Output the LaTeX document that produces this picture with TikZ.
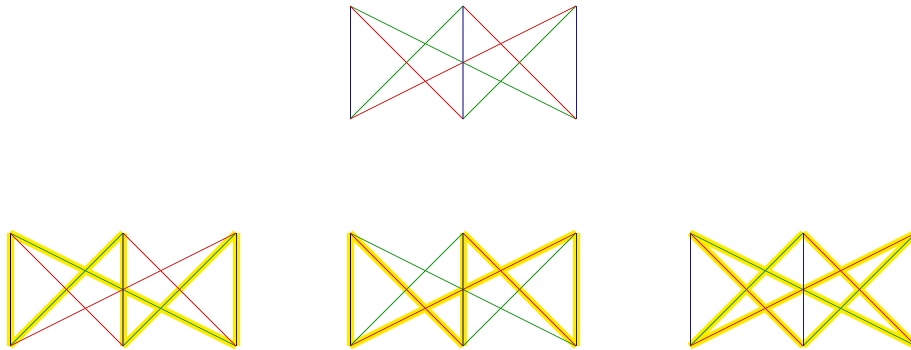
\documentclass[tikz,border=0pt]{standalone}
\definecolor{gcol}{RGB}{20,150,20}
\definecolor{rcol}{RGB}{215,20,20}
\definecolor{bcol}{RGB}{20,20,140}
\definecolor{hlcol}{RGB}{255,235,0}
\tikzset{
  gedge/.style={draw=gcol, line width=0.8pt},
  redge/.style={draw=rcol, line width=0.8pt},
  bedge/.style={draw=bcol, line width=0.8pt},
  midbedge/.style={draw=bcol, line width=2pt, draw opacity=0.55},
  hl/.style={draw=hlcol, line width=7pt},
}
\newcommand\placegraph[3]{%
  \coordinate (#1tl) at (#2,#3);
  \coordinate (#1tm) at (#2+113,#3);
  \coordinate (#1tr) at (#2+226,#3);
  \coordinate (#1bl) at (#2,#3+113);
  \coordinate (#1bm) at (#2+113,#3+113);
  \coordinate (#1br) at (#2+226,#3+113);
}
\newcommand\verts[1]{%
  \draw[bedge] (#1tl) -- (#1bl);
  \draw[bedge] (#1tr) -- (#1br);
}
\newcommand\greens[1]{%
  \draw[gedge] (#1tl) -- (#1br);
  \draw[gedge] (#1tm) -- (#1bl);
  \draw[gedge] (#1tr) -- (#1bm);
}
\newcommand\reds[1]{%
  \draw[redge] (#1tl) -- (#1bm);
  \draw[redge] (#1tm) -- (#1br);
  \draw[redge] (#1tr) -- (#1bl);
}
\begin{document}
\begin{tikzpicture}[x=1pt,y=-1pt]
\useasboundingbox (0,0) rectangle (911,349);
\clip (0,0) rectangle (911,349);
\placegraph{a}{350}{6}
\placegraph{b}{10}{233}
\placegraph{c}{350}{233}
\placegraph{d}{690}{233}
% top graph
\verts{a}
\greens{a}
\reds{a}
\draw[midbedge] (atm) -- (abm);
% bottom left: verticals + green highlighted
\draw[hl] (btl) -- (bbl);
\draw[hl] (btm) -- (bbm);
\draw[hl] (btr) -- (bbr);
\draw[hl] (btl) -- (bbr);
\draw[hl] (btm) -- (bbl);
\draw[hl] (btr) -- (bbm);
\draw[bedge,draw=black] (btl) -- (bbl);
\draw[bedge] (btr) -- (bbr);
\greens{b}
\reds{b}
\draw[midbedge] (btm) -- (bbm);
% bottom middle: verticals + red highlighted
\draw[hl] (ctl) -- (cbl);
\draw[hl] (ctm) -- (cbm);
\draw[hl] (ctr) -- (cbr);
\draw[hl] (ctl) -- (cbm);
\draw[hl] (ctm) -- (cbr);
\draw[hl] (ctr) -- (cbl);
\draw[bedge,draw=black] (ctl) -- (cbl);
\draw[bedge] (ctr) -- (cbr);
\greens{c}
\reds{c}
\draw[midbedge] (ctm) -- (cbm);
% bottom right: diagonals highlighted
\draw[hl] (dtl) -- (dbr);
\draw[hl] (dtm) -- (dbl);
\draw[hl] (dtr) -- (dbm);
\draw[hl] (dtl) -- (dbm);
\draw[hl] (dtm) -- (dbr);
\draw[hl] (dtr) -- (dbl);
\verts{d}
\greens{d}
\reds{d}
\draw[bedge] (dtm) -- (dbm);
\end{tikzpicture}
\end{document}
